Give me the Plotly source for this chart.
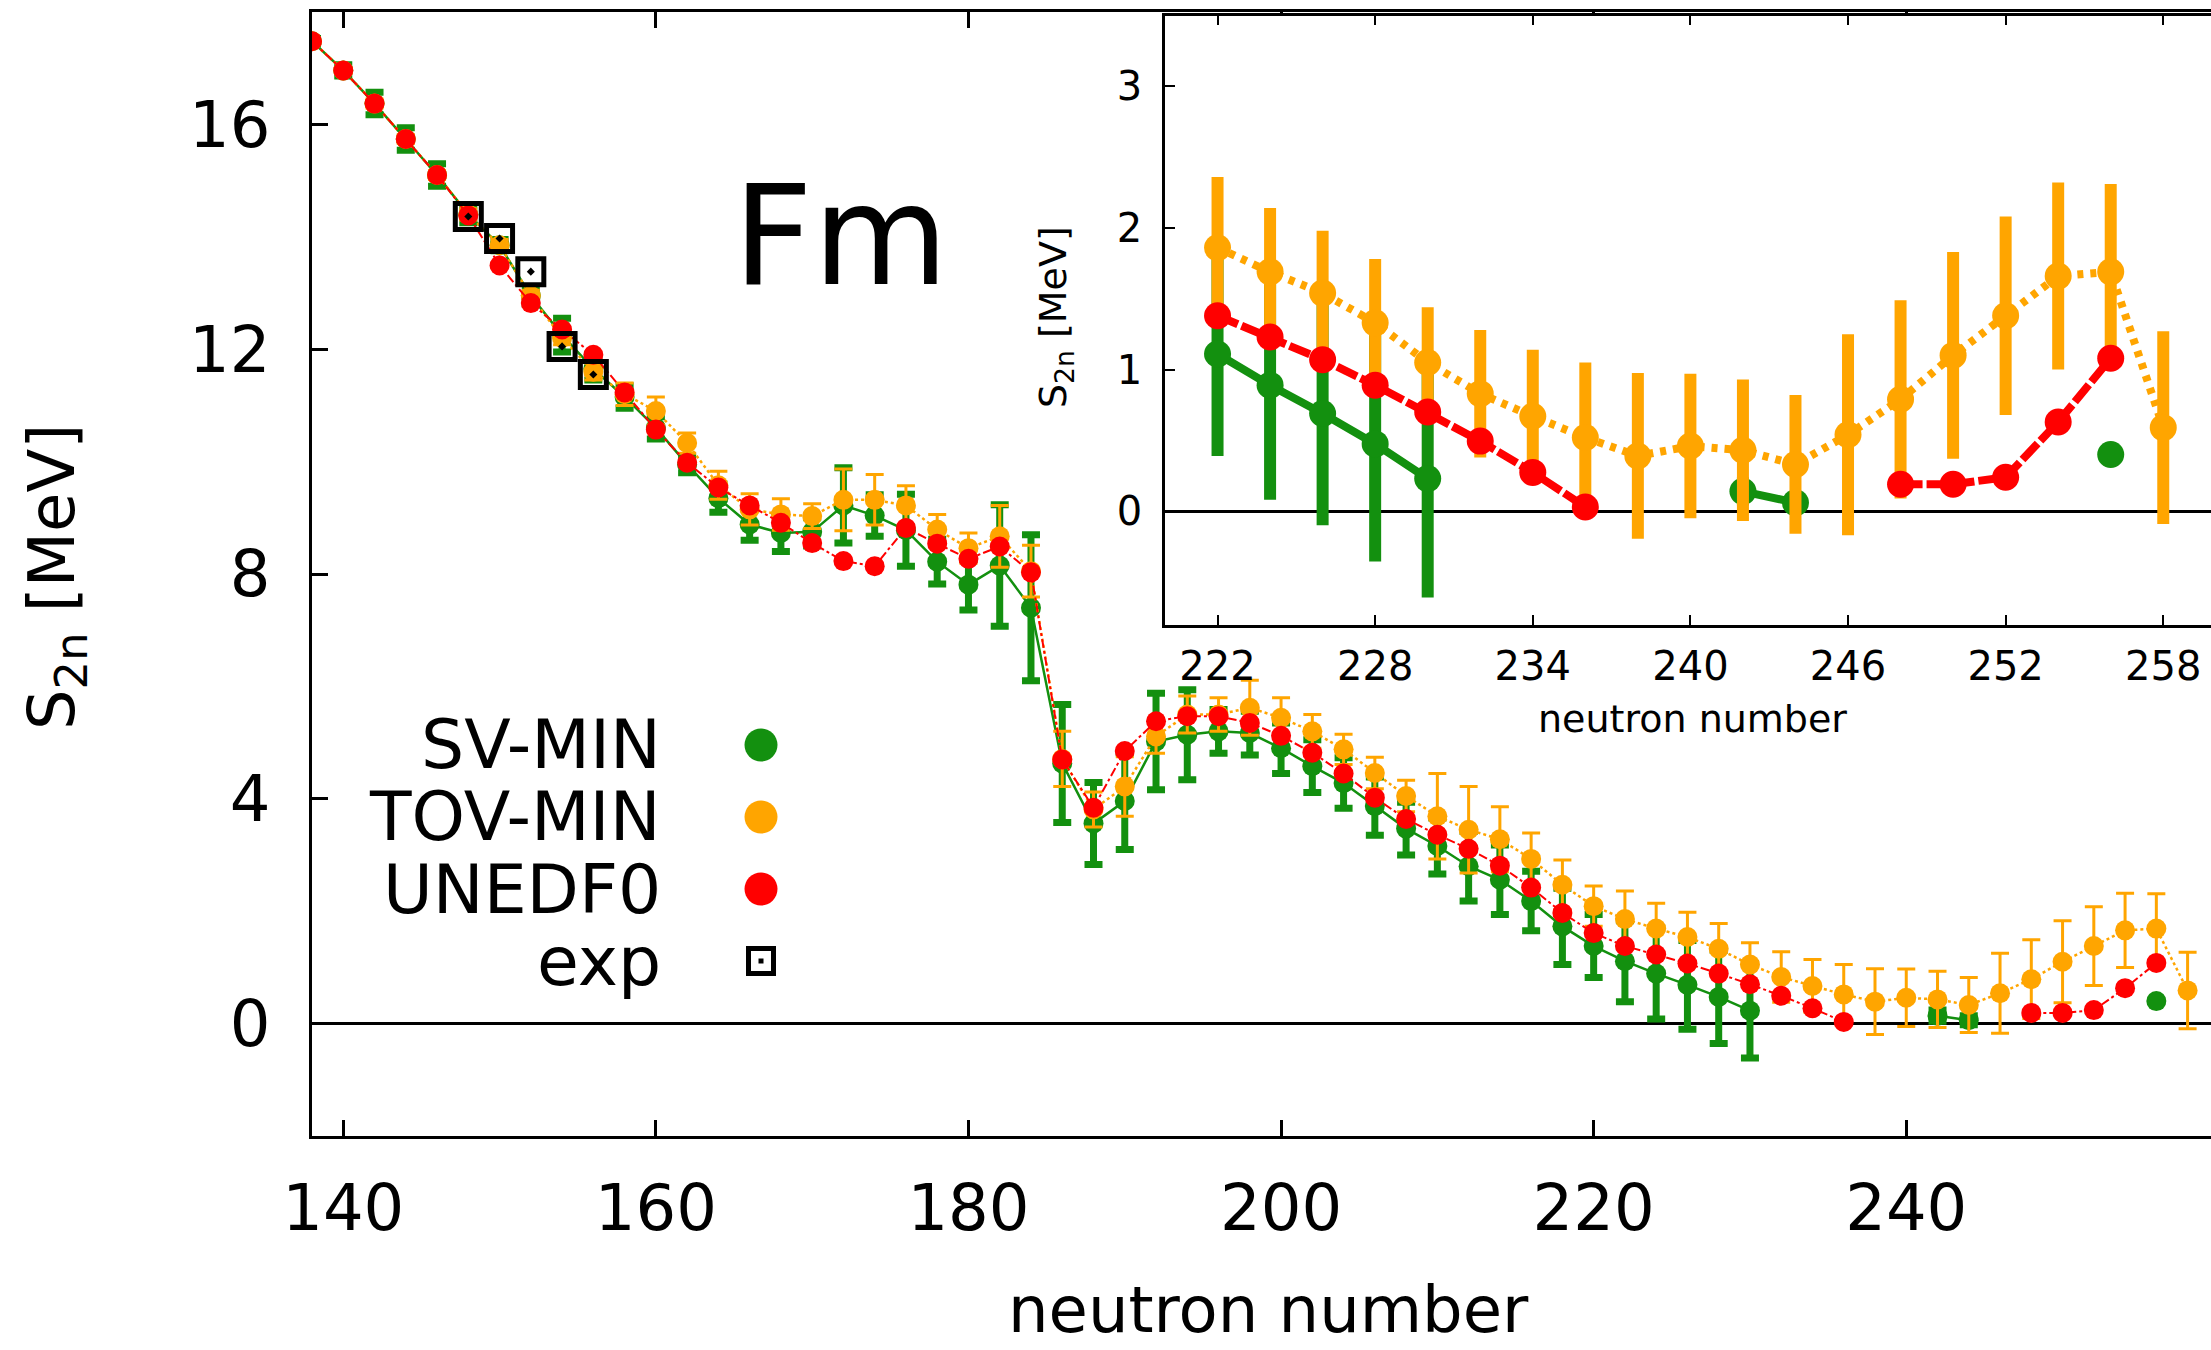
import plotly.graph_objects as go

# Two-neutron separation energies of Fm isotopes (neutron number N = 138 ... 258)
N = list(range(138, 260, 2))

sv_min = [17.48, 16.96, 16.37, 15.74, 15.10, 14.40, 13.85, 12.95, 12.25, 11.65,
          11.15, 10.60, 9.95, 9.35, 8.88, 8.73, 8.75, 9.22, 9.04, 8.78,
          8.22, 7.81, 8.15, 7.40, 4.63, 3.56, 3.96, 5.02, 5.14, 5.20,
          5.17, 4.90, 4.58, 4.28, 3.87, 3.47, 3.16, 2.80, 2.56, 2.18,
          1.73, 1.38, 1.11, 0.89, 0.69, 0.475, 0.23, None, None, None,
          None, None, 0.14, 0.06, None, None, None, None, None, 0.40,
          None]
sv_err = [0.05, 0.10, 0.20, 0.20, 0.20, 0.15, 0.10, 0.15, 0.30, 0.20,
          0.20, 0.20, 0.15, 0.25, 0.28, 0.33, 0.25, 0.67, 0.37, 0.64,
          0.40, 0.45, 1.08, 1.30, 1.05, 0.73, 0.86, 0.86, 0.80, 0.39,
          0.39, 0.45, 0.47, 0.45, 0.52, 0.47, 0.50, 0.62, 0.62, 0.53,
          0.68, 0.56, 0.72, 0.81, 0.79, 0.83, 0.84, None, None, None,
          None, None, 0.10, 0.08, None, None, None, None, None, 0.0,
          None]

tov_min = [17.48, 16.96, 16.37, 15.74, 15.10, 14.40, 13.85, 12.95, 12.20, 11.60,
           11.20, 10.90, 10.33, 9.58, 9.15, 9.06, 9.03, 9.32, 9.32, 9.22,
           8.79, 8.46, 8.67, 8.05, 4.71, 3.81, 4.22, 5.11, 5.50, 5.50,
           5.62, 5.44, 5.20, 4.88, 4.46, 4.05, 3.69, 3.45, 3.28, 2.93,
           2.47, 2.09, 1.86, 1.69, 1.54, 1.33, 1.05, 0.83, 0.67, 0.52,
           0.39, 0.46, 0.43, 0.33, 0.54, 0.79, 1.10, 1.38, 1.66, 1.69,
           0.59]
tov_err = [0.05, 0.05, 0.08, 0.08, 0.08, 0.10, 0.10, 0.10, 0.12, 0.15,
           0.20, 0.25, 0.18, 0.25, 0.28, 0.28, 0.22, 0.55, 0.45, 0.35,
           0.27, 0.27, 0.55, 0.46, 0.49, 0.31, 0.53, 0.30, 0.33, 0.30,
           0.49, 0.36, 0.30, 0.27, 0.28, 0.28, 0.76, 0.77, 0.58, 0.46,
           0.44, 0.36, 0.50, 0.45, 0.44, 0.45, 0.39, 0.45, 0.47, 0.53,
           0.585, 0.51, 0.50, 0.49, 0.71, 0.70, 0.73, 0.70, 0.66, 0.62,
           0.68]

unedf0 = [17.48, 16.96, 16.37, 15.74, 15.10, 14.38, 13.49, 12.82, 12.35, 11.90,
          11.23, 10.57, 9.98, 9.54, 9.22, 8.91, 8.55, 8.23, 8.14, 8.82,
          8.54, 8.27, 8.49, 8.03, 4.70, 3.84, 4.85, 5.38, 5.47, 5.47,
          5.35, 5.12, 4.82, 4.45, 4.02, 3.64, 3.36, 3.11, 2.81, 2.42,
          1.97, 1.61, 1.38, 1.23, 1.07, 0.89, 0.70, 0.495, 0.274, 0.03,
          None, None, None, None, None, 0.19, 0.19, 0.24, 0.63, 1.08,
          None]

exp_N = [148, 150, 152, 154, 156]
exp_S = [14.36, 13.97, 13.38, 12.05, 11.55]

legend_names = ["SV-MIN", "TOV-MIN", "UNEDF0", "exp"]
main_xticks = [140, 160, 180, 200, 220, 240]
main_yticks = [0, 4, 8, 12, 16]
inset_xticks = [222, 228, 234, 240, 246, 252, 258]
inset_yticks = [0, 1, 2, 3]

GREEN = "#13900f"
ORANGE = "#ffa500"
RED = "#ff0000"
FONT = "DejaVu Sans"

W, H = 2211, 1350
ML, MT, MB = 312, 12, 214
PW, PH = W - ML, H - MT - MB


def px_x(px):
    return (px - ML) / PW


def px_y(py):
    return (H - MB - py) / PH


fig = go.Figure()

# ---- main panel -------------------------------------------------------------
series = [
    (sv_min, sv_err, GREEN, "solid", 2.5, 7, 9),
    (tov_min, tov_err, ORANGE, "dot", 2.5, 3, 9),
    (unedf0, None, RED, "dashdot", 2, 0, 0),
]
for ys, err, col, dash, lw, eth, ew in series:
    fig.add_trace(go.Scatter(
        x=N, y=ys, mode="lines+markers", connectgaps=False, showlegend=False,
        line=dict(color=col, width=lw, dash=dash),
        marker=dict(color=col, size=20),
        error_y=dict(type="data", array=err, visible=err is not None,
                     color=col, thickness=eth, width=ew),
        xaxis="x", yaxis="y"))

fig.add_trace(go.Scatter(
    x=exp_N, y=exp_S, mode="markers", showlegend=False,
    marker=dict(symbol="square-open-dot", size=26, color="black",
                line=dict(width=5, color="black")),
    xaxis="x", yaxis="y"))

# ---- inset (N >= 222) ---------------------------------------------------------
idx = [i for i, n in enumerate(N) if n >= 222]
inset_series = [
    (sv_min, sv_err, GREEN, "solid"),
    (tov_min, tov_err, ORANGE, "6px,7px"),
    (unedf0, None, RED, "22px,4px"),
]
for ys, err, col, dash in inset_series:
    fig.add_trace(go.Scatter(
        x=[N[i] for i in idx], y=[ys[i] for i in idx],
        mode="lines+markers", connectgaps=False, showlegend=False,
        line=dict(color=col, width=8, dash=dash),
        marker=dict(color=col, size=27),
        error_y=dict(type="data", array=None if err is None else [err[i] for i in idx],
                     visible=err is not None, color=col, thickness=12, width=0),
        xaxis="x2", yaxis="y2"))

axis_common = dict(showgrid=False, ticks="inside", tickcolor="black",
                   linecolor="black", showline=True)

fig.update_layout(
    width=W, height=H,
    margin=dict(l=ML, r=0, t=MT, b=MB, pad=0),
    paper_bgcolor="white", plot_bgcolor="white",
    font=dict(family=FONT, color="black"),
    showlegend=False,
    xaxis=dict(domain=[0, 1], range=[138, 138 + PW / 15.63], tickvals=main_xticks,
               ticklen=16, tickwidth=2.5, linewidth=2.5, mirror="ticks",
               zeroline=False, tickfont=dict(size=64), ticklabelstandoff=14,
               anchor="y", **axis_common),
    yaxis=dict(domain=[0, 1], range=[-2, 18], tickvals=main_yticks,
               ticklen=16, tickwidth=2.5, linewidth=2.5, mirror=False,
               zeroline=True, zerolinecolor="black", zerolinewidth=2.5,
               tickfont=dict(size=64), ticklabelstandoff=26,
               anchor="x", **axis_common),
    xaxis2=dict(domain=[px_x(1165), 1], range=[220, 220 + (W - 1165) / 26.27],
                tickvals=inset_xticks, ticklen=10, tickwidth=2, linewidth=2.5,
                mirror="ticks", zeroline=False, tickfont=dict(size=40),
                ticklabelstandoff=5, anchor="y2", **axis_common),
    yaxis2=dict(domain=[px_y(624.5), px_y(15.5)], range=[-0.8, 3.5],
                tickvals=inset_yticks, ticklen=10, tickwidth=2, linewidth=2.5,
                mirror=False, zeroline=True, zerolinecolor="black",
                zerolinewidth=2.5, tickfont=dict(size=40), ticklabelstandoff=12,
                anchor="x2", **axis_common),
    yaxis3=dict(overlaying="y2", side="right", anchor="x2", range=[-0.8, 3.5],
                tickvals=[-0.5, 0, 1, 2, 3], ticks="inside", ticklen=10,
                tickwidth=2, tickcolor="black", showticklabels=False,
                showline=False, showgrid=False, zeroline=False),
)

annotations = [
    dict(text="Fm", x=px_x(731), y=px_y(236), xanchor="left", yanchor="middle",
         font=dict(size=139)),
    dict(text="neutron number", x=px_x(1268), y=px_y(1310), xanchor="center",
         yanchor="middle", font=dict(size=64)),
    dict(text="S<sub>2n</sub> [MeV]", x=px_x(56), y=px_y(577), textangle=-90,
         xanchor="center", yanchor="middle", font=dict(size=64)),
    dict(text="neutron number", x=px_x(1692), y=px_y(719), xanchor="center",
         yanchor="middle", font=dict(size=38)),
    dict(text="S<sub>2n</sub> [MeV]", x=px_x(1055), y=px_y(317), textangle=-90,
         xanchor="center", yanchor="middle", font=dict(size=38)),
]

# legend: right-aligned labels with the symbol to their right
row_y = [745, 817, 889, 961]
key_x = px_x(761)
for name, ry in zip(legend_names, row_y):
    annotations.append(dict(text=name, x=px_x(663), y=px_y(ry), xanchor="right",
                            yanchor="middle", font=dict(size=68)))

shapes = []
for col, ry in zip([GREEN, ORANGE, RED], row_y[:3]):
    shapes.append(dict(type="circle", xref="paper", yref="paper",
                       xsizemode="pixel", ysizemode="pixel",
                       xanchor=key_x, yanchor=px_y(ry),
                       x0=-16.5, x1=16.5, y0=-16.5, y1=16.5,
                       fillcolor=col, line=dict(width=0)))
shapes.append(dict(type="rect", xref="paper", yref="paper",
                   xsizemode="pixel", ysizemode="pixel",
                   xanchor=key_x, yanchor=px_y(row_y[3]),
                   x0=-12.5, x1=12.5, y0=-12.5, y1=12.5,
                   fillcolor="rgba(0,0,0,0)", line=dict(width=5, color="black")))
shapes.append(dict(type="rect", xref="paper", yref="paper",
                   xsizemode="pixel", ysizemode="pixel",
                   xanchor=key_x, yanchor=px_y(row_y[3]),
                   x0=-2.5, x1=2.5, y0=-2.5, y1=2.5,
                   fillcolor="black", line=dict(width=0)))

for a in annotations:
    a.update(xref="paper", yref="paper", showarrow=False)
fig.update_layout(annotations=annotations, shapes=shapes)

fig.write_html("out.html")
